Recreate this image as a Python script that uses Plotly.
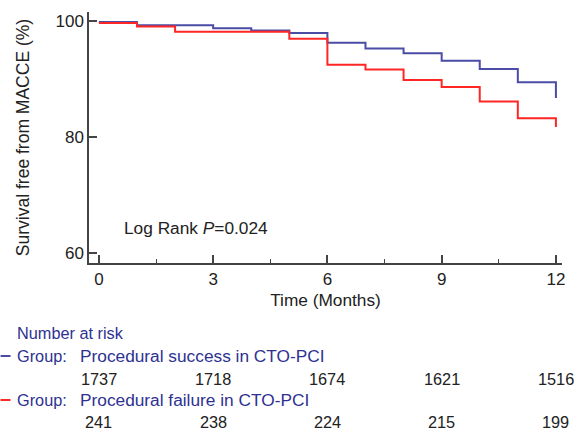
import plotly.graph_objects as go

# Data
months_success = [0, 1, 3, 4, 5, 6, 7, 8, 9, 10, 11, 12, 12]
surv_success = [99.8, 99.2, 98.7, 98.3, 97.9, 96.2, 95.2, 94.4, 93.1, 91.7, 89.4, 89.4, 86.7]
months_failure = [0, 1, 2, 5, 6, 7, 8, 9, 10, 11, 12, 12]
surv_failure = [99.6, 99.0, 98.1, 96.9, 92.4, 91.6, 89.8, 88.6, 86.1, 83.2, 83.2, 81.7]

risk_times = [0, 3, 6, 9, 12]
risk_success = [1737, 1718, 1674, 1621, 1516]
risk_failure = [241, 238, 224, 215, 199]

group_success = "Procedural success in CTO-PCI"
group_failure = "Procedural failure in CTO-PCI"

BLUE = "#4b4ca6"
RED = "#ff2626"
NAVY = "#2e3192"
TXT = "#222222"
FONT = "Liberation Sans, Arial, sans-serif"

W, H = 574, 435
L, R, T, B = 89, 9, 12, 172
plot_h = H - T - B
plot_w = W - L - R

def py(ypix):
    return (H - B - ypix) / plot_h

def px(xpix):
    return (xpix - L) / plot_w

fig = go.Figure()
fig.add_trace(go.Scatter(x=months_success, y=surv_success, mode="lines",
                         line=dict(color=BLUE, width=2, shape="hv"), showlegend=False))
fig.add_trace(go.Scatter(x=months_failure, y=surv_failure, mode="lines",
                         line=dict(color=RED, width=2, shape="hv"), showlegend=False))

annotations = [
    dict(x=0.6, y=64.3, xref="x", yref="y", text="Log Rank <i>P</i>=0.024",
         showarrow=False, xanchor="left", yanchor="middle",
         font=dict(size=17.3, color=TXT, family=FONT)),
    dict(x=px(15), y=py(333), xref="paper", yref="paper", text="Number at risk",
         showarrow=False, xanchor="left", yanchor="middle",
         font=dict(size=16.3, color=NAVY, family=FONT)),
    dict(x=px(15), y=py(356), xref="paper", yref="paper", text="Group:",
         showarrow=False, xanchor="left", yanchor="middle",
         font=dict(size=16.3, color=NAVY, family=FONT)),
    dict(x=px(78), y=py(356), xref="paper", yref="paper", text=group_success,
         showarrow=False, xanchor="left", yanchor="middle",
         font=dict(size=17.3, color=NAVY, family=FONT)),
    dict(x=px(15), y=py(400), xref="paper", yref="paper", text="Group:",
         showarrow=False, xanchor="left", yanchor="middle",
         font=dict(size=16.3, color=NAVY, family=FONT)),
    dict(x=px(78), y=py(400), xref="paper", yref="paper", text=group_failure,
         showarrow=False, xanchor="left", yanchor="middle",
         font=dict(size=17.3, color=NAVY, family=FONT)),
]
for t, v in zip(risk_times, risk_success):
    annotations.append(dict(x=t, y=py(379), xref="x", yref="paper", text=str(v),
                            showarrow=False, xanchor="center", yanchor="middle",
                            font=dict(size=16.3, color=TXT, family=FONT)))
for t, v in zip(risk_times, risk_failure):
    annotations.append(dict(x=t, y=py(422), xref="x", yref="paper", text=str(v),
                            showarrow=False, xanchor="center", yanchor="middle",
                            font=dict(size=16.3, color=TXT, family=FONT)))

shapes = [
    dict(type="line", xref="paper", yref="paper", x0=px(0), x1=px(10), y0=py(356), y1=py(356),
         line=dict(color=BLUE, width=2)),
    dict(type="line", xref="paper", yref="paper", x0=px(0), x1=px(10), y0=py(400), y1=py(400),
         line=dict(color=RED, width=2)),
]

fig.update_layout(
    width=W, height=H,
    margin=dict(l=L, r=R, t=T, b=B),
    paper_bgcolor="white", plot_bgcolor="white",
    font=dict(family=FONT, color=TXT),
    annotations=annotations, shapes=shapes,
    xaxis=dict(range=[-0.26, 12.16], tickvals=risk_times, ticks="inside", ticklen=8,
               tickwidth=1.5, tickcolor="#444", showline=True, linecolor="#444", linewidth=1.5,
               showgrid=False, zeroline=False, tickfont=dict(size=17, color=TXT),
               title=dict(text="Time (Months)", font=dict(size=17.3, color=TXT), standoff=6),
               minor=dict(tickvals=[1.5, 4.5, 7.5, 10.5], ticks="inside", ticklen=4,
                          tickcolor="#444", tickwidth=1)),
    yaxis=dict(range=[58.3, 101.5], tickvals=[60, 80, 100], ticks="inside", ticklen=8,
               tickwidth=1.5, tickcolor="#444", showline=True, linecolor="#444", linewidth=1.5,
               showgrid=False, zeroline=False, tickfont=dict(size=17, color=TXT),
               title=dict(text="Survival free from MACCE (%)", font=dict(size=17.5, color=TXT),
                          standoff=21)),
)

fig.write_html("out.html")
